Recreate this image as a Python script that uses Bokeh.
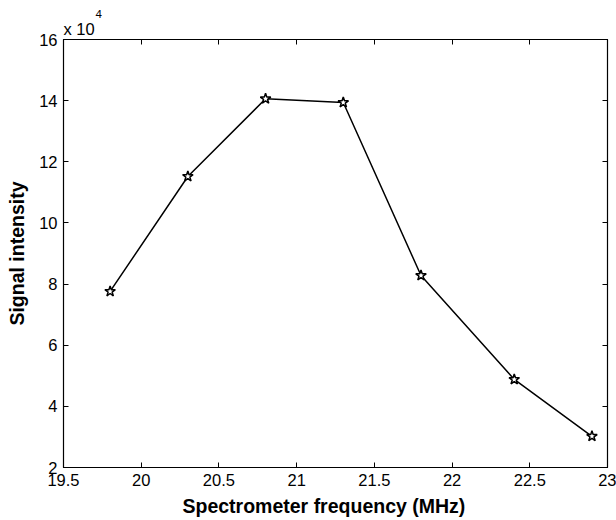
from bokeh.plotting import figure
from bokeh.models import LinearAxis, Title, FixedTicker, Range1d
from bokeh.embed import file_html
from bokeh.resources import INLINE

freq = [19.8, 20.3, 20.8, 21.3, 21.8, 22.4, 22.9]
intensity = [7.76, 11.52, 14.06, 13.94, 8.28, 4.88, 3.02]  # x 10^4
x_ticks = [19.5, 20, 20.5, 21, 21.5, 22, 22.5, 23]
y_ticks = [2, 4, 6, 8, 10, 12, 14, 16]

FONT = "Liberation Sans"

p = figure(frame_width=544, frame_height=428, output_backend="svg", toolbar_location=None,
           x_range=Range1d(19.5, 23), y_range=Range1d(2, 16),
           min_border_left=63, min_border_top=39, min_border_right=9, min_border_bottom=10)
p.xgrid.visible = False
p.ygrid.visible = False
p.outline_line_color = "black"
p.outline_line_width = 1.2

p.line(freq, intensity, line_color="black", line_width=1.5)
p.scatter(freq, intensity, marker="star", size=11, fill_color="white", line_color="black", line_width=1.5)

for ax, ticks in ((p.xaxis[0], x_ticks), (p.yaxis[0], y_ticks)):
    ax.ticker = FixedTicker(ticks=ticks)
    ax.major_tick_in = 5
    ax.major_tick_out = 0
    ax.minor_tick_line_color = None
    ax.axis_line_color = "black"
    ax.major_tick_line_color = "black"
    ax.major_label_text_font = FONT
    ax.major_label_text_font_size = "16.5px"
    ax.major_label_text_color = "black"
    ax.axis_label_text_font = FONT
    ax.axis_label_text_font_style = "bold"
    ax.axis_label_text_font_size = "19.5px"
    ax.axis_label_text_color = "black"

p.yaxis[0].axis_label = "Signal intensity"
p.xaxis[0].major_label_standoff = 6
p.yaxis[0].major_label_standoff = 6
p.yaxis[0].axis_label_standoff = 8

top = LinearAxis(ticker=FixedTicker(ticks=x_ticks), major_label_text_color=None,
                 major_tick_in=5, major_tick_out=0, minor_tick_line_color=None,
                 major_label_standoff=0, major_label_text_font_size="1px")
right = LinearAxis(ticker=FixedTicker(ticks=y_ticks), major_label_text_color=None,
                   major_tick_in=5, major_tick_out=0, minor_tick_line_color=None,
                   major_label_standoff=0, major_label_text_font_size="1px")
p.add_layout(top, "above")
p.add_layout(right, "right")

# x-axis title as a left-aligned title below, to match its offset
p.add_layout(Title(text="Spectrometer frequency (MHz)", align="left", offset=119,
                   text_font=FONT, text_font_size="19.5px", text_font_style="bold",
                   text_color="black", standoff=9), "below")

# multiplier "x 10^4" above the top-left corner
p.add_layout(Title(text="x 10", align="left", offset=0, text_font=FONT, text_font_size="16.5px",
                   text_font_style="normal", text_color="black", standoff=4), "above")
p.add_layout(Title(text="4", align="left", offset=32, text_font=FONT, text_font_size="11.5px",
                   text_font_style="normal", text_color="black", standoff=-4), "above")

open("out.html", "w").write(file_html(p, INLINE))
